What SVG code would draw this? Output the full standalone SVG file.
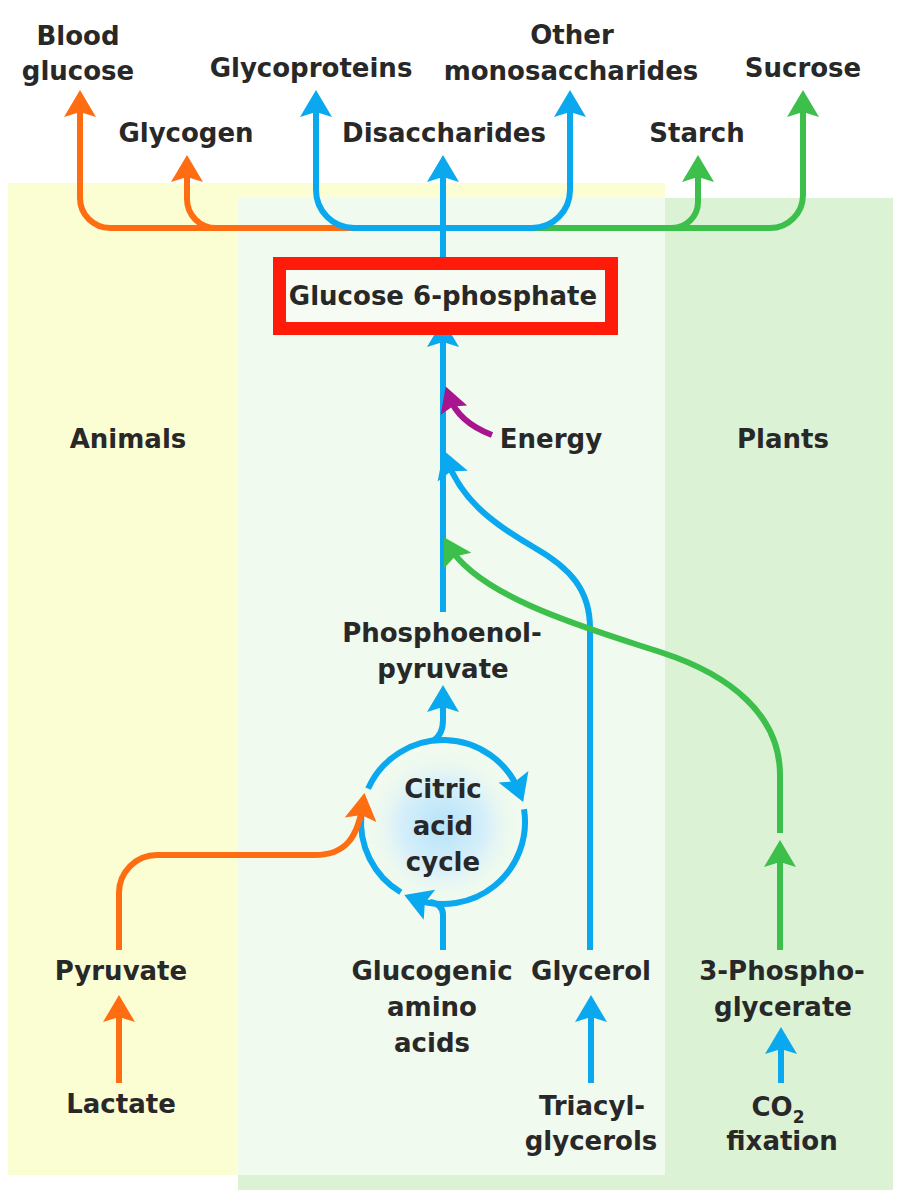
<svg xmlns="http://www.w3.org/2000/svg" width="904" height="1200" viewBox="0 0 904 1200">
<style>
text{font-family:"DejaVu Sans","Liberation Sans",sans-serif;font-weight:bold;font-size:26px;fill:#282828;text-anchor:middle}
.c{fill:none;stroke-width:6}
.o{stroke:#ff6d12}
.b{stroke:#0aa8ee}
.g{stroke:#3cbf4b}
.m{stroke:#a8168f}
</style>
<defs>
<marker id="ao" markerUnits="userSpaceOnUse" orient="auto" viewBox="-20 -20 40 40" markerWidth="40" markerHeight="40" refX="0" refY="0"><path d="M10,0 L-17,-16 L-12,0 L-17,16 Z" fill="#ff6d12"/></marker>
<marker id="ab" markerUnits="userSpaceOnUse" orient="auto" viewBox="-20 -20 40 40" markerWidth="40" markerHeight="40" refX="0" refY="0"><path d="M10,0 L-17,-16 L-12,0 L-17,16 Z" fill="#0aa8ee"/></marker>
<marker id="ag" markerUnits="userSpaceOnUse" orient="auto" viewBox="-20 -20 40 40" markerWidth="40" markerHeight="40" refX="0" refY="0"><path d="M10,0 L-17,-16 L-12,0 L-17,16 Z" fill="#3cbf4b"/></marker>
<marker id="am" markerUnits="userSpaceOnUse" orient="auto" viewBox="-20 -20 40 40" markerWidth="40" markerHeight="40" refX="0" refY="0"><path d="M10,0 L-15,-14 L-11,0 L-15,14 Z" fill="#a8168f"/></marker>
<radialGradient id="cyc" cx="443" cy="826" r="78" gradientUnits="userSpaceOnUse"><stop offset="0" stop-color="#b5e3f8"/><stop offset="0.55" stop-color="#d6effa"/><stop offset="1" stop-color="#f0faee" stop-opacity="0"/></radialGradient>
</defs>
<rect x="0" y="0" width="904" height="1200" fill="#ffffff"/>
<g id="panels">
<rect x="8" y="183" width="657" height="992" fill="#fbfdd3"/>
<rect x="238" y="198" width="655" height="992" fill="#dcf2d5"/>
<rect x="238" y="198" width="427" height="977" fill="#f0faee"/>
<circle cx="443" cy="822" r="80" fill="url(#cyc)"/>
</g>
<g id="connectors">
<path class="c o" d="M355,228 H110 A30,30 0 0 1 80,198 V100" marker-end="url(#ao)"/>
<path class="c o" d="M216,228 A29,29 0 0 1 187,199 V165" marker-end="url(#ao)"/>
<path class="c g" d="M500,228 H770 A33,33 0 0 0 803,195 V100" marker-end="url(#ag)"/>
<path class="c g" d="M672,228 A26,26 0 0 0 698,202 V165" marker-end="url(#ag)"/>
<path class="c b" d="M443,228 H354 A38,38 0 0 1 316,190 V100" marker-end="url(#ab)"/>
<path class="c b" d="M443,228 H532 A38,38 0 0 0 570,190 V100" marker-end="url(#ab)"/>
<path class="c b" d="M443,257 V165" marker-end="url(#ab)"/>
<path class="c b" d="M443,612 V330" marker-end="url(#ab)"/>
<path class="c b" d="M590,950 V628 C590,590 570,568 535,548 C497,526 462,502 447,460" marker-end="url(#ab)"/>
<path class="c g" d="M780,833 V775 C780,715 730,675 663,653 C603,633 480,600 449,546" marker-end="url(#ag)"/>
<path class="c g" d="M780,950 V850" marker-end="url(#ag)"/>
<path class="c m" d="M492,435 Q458,422 449,396" marker-end="url(#am)"/>
<path class="c b" d="M368.1,788.65 A82,82 0 0 1 519.55,792.61" marker-end="url(#ab)"/>
<path class="c b" d="M524,809.2 A82,82 0 0 1 413.6,898.6" marker-end="url(#ab)"/>
<path class="c b" d="M400.8,892.3 A82,82 0 0 1 361.45,813.4"/>
<path class="c b" d="M433,741 C441,736 443,728 443,720 V695" marker-end="url(#ab)"/>
<path class="c b" d="M443,950 V915 Q443,904 430,902"/>
<path class="c o" d="M119,950 V893 A38,38 0 0 1 157,855 H315 C345,855 358,838 363,803" marker-end="url(#ao)"/>
<path class="c o" d="M119,1083 V1005" marker-end="url(#ao)"/>
<path class="c b" d="M591,1083 V1005" marker-end="url(#ab)"/>
<path class="c b" d="M781,1083 V1037" marker-end="url(#ab)"/>
</g>
<g id="node-g6p">
<rect x="279.5" y="263.5" width="332" height="65" fill="#f6fcf4" stroke="#ff1a0a" stroke-width="13"/>
<text x="443" y="305">Glucose 6-phosphate</text>
</g>
<g id="node-blood-glucose"><text x="78" y="45">Blood</text><text x="78" y="80">glucose</text></g>
<g id="node-glycoproteins"><text x="311" y="77">Glycoproteins</text></g>
<g id="node-other-mono"><text x="572" y="44">Other</text><text x="571" y="80">monosaccharides</text></g>
<g id="node-sucrose"><text x="803" y="77">Sucrose</text></g>
<g id="node-glycogen"><text x="186" y="142">Glycogen</text></g>
<g id="node-disaccharides"><text x="444" y="142">Disaccharides</text></g>
<g id="node-starch"><text x="697" y="142">Starch</text></g>
<g id="label-animals"><text x="128" y="448">Animals</text></g>
<g id="node-energy"><text x="551" y="448">Energy</text></g>
<g id="label-plants"><text x="783" y="448">Plants</text></g>
<g id="node-pep"><text x="442" y="642">Phosphoenol-</text><text x="443" y="678">pyruvate</text></g>
<g id="node-cycle"><text x="443" y="798">Citric</text><text x="443" y="835">acid</text><text x="443" y="871">cycle</text></g>
<g id="node-pyruvate"><text x="121" y="980">Pyruvate</text></g>
<g id="node-lactate"><text x="121" y="1113">Lactate</text></g>
<g id="node-glucogenic"><text x="432" y="980">Glucogenic</text><text x="432" y="1016">amino</text><text x="432" y="1052">acids</text></g>
<g id="node-glycerol"><text x="591" y="980">Glycerol</text></g>
<g id="node-triacyl"><text x="592" y="1115">Triacyl-</text><text x="591" y="1150">glycerols</text></g>
<g id="node-3pg"><text x="782" y="980">3-Phospho-</text><text x="783" y="1016">glycerate</text></g>
<g id="node-co2"><text x="778" y="1116">CO<tspan font-size="17" dy="7">2</tspan></text><text x="782" y="1150">fixation</text></g>
</svg>
